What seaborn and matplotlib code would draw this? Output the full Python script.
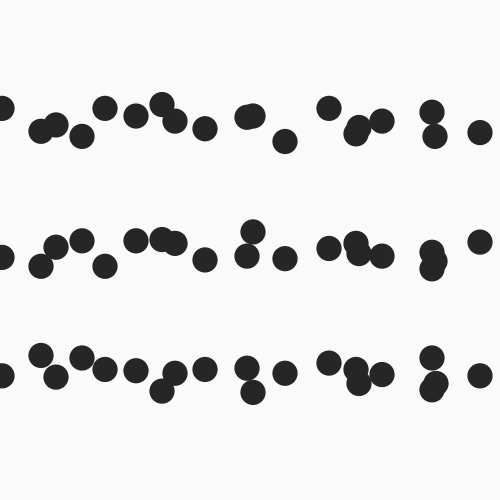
import pandas as pd
import matplotlib
matplotlib.use("Agg")
import matplotlib.pyplot as plt
import seaborn as sns

# x values (0-100 scale) and vertical jitter for each of the three rows
row_a_x = [0.4, 8.2, 11.2, 16.4, 21.0, 27.2, 32.4, 35.0, 41.0, 49.4, 50.6, 57.0,
           65.8, 71.2, 71.8, 76.4, 86.4, 87.0, 96.0]
row_a_jit = [-0.11, 0.07, 0.02, 0.11, -0.11, -0.05, -0.14, -0.01, 0.05, -0.04, -0.05, 0.15,
             -0.11, 0.09, 0.04, -0.01, -0.08, 0.11, 0.08]

row_b_x = [0.4, 8.2, 11.2, 16.4, 21.0, 27.2, 32.4, 35.0, 41.0, 49.4, 50.6, 57.0,
           65.8, 71.2, 71.8, 76.4, 86.4, 87.0, 86.4, 96.0]
row_b_jit = [0.06, 0.13, -0.02, -0.07, 0.13, -0.07, -0.08, -0.05, 0.08, 0.05, -0.14, 0.07,
             -0.01, -0.05, 0.03, 0.05, 0.02, 0.09, 0.15, -0.06]

row_c_x = [0.4, 8.2, 11.2, 16.4, 21.0, 27.2, 32.4, 35.0, 41.0, 49.4, 50.6, 57.0,
           65.8, 71.2, 71.8, 76.4, 86.4, 86.4, 87.2, 96.0]
row_c_jit = [-0.01, -0.17, 0.00, -0.15, -0.06, -0.05, 0.11, -0.03, -0.06, -0.07, 0.12, -0.03,
             -0.11, -0.06, 0.05, -0.02, -0.15, 0.10, 0.05, -0.01]

rows = [(0, row_a_x, row_a_jit), (1, row_b_x, row_b_jit), (2, row_c_x, row_c_jit)]
frames = []
for idx, xs, js in rows:
    frames.append(pd.DataFrame({"x": xs, "y": [idx + j for j in js]}))
df = pd.concat(frames, ignore_index=True)

sns.set_theme(style="white")
fig = plt.figure(figsize=(5, 5), dpi=100, facecolor="#fafafa")
ax = fig.add_axes([0, 0, 1, 1])
ax.set_facecolor("#fafafa")

sns.scatterplot(data=df, x="x", y="y", color="#262626", s=330,
                edgecolor="none", linewidth=0, ax=ax, legend=False)

ax.set_xlim(0, 100)
ax.set_ylim(2.965, -0.961)
ax.set_axis_off()

fig.savefig("out.png", dpi=100, facecolor="#fafafa")
